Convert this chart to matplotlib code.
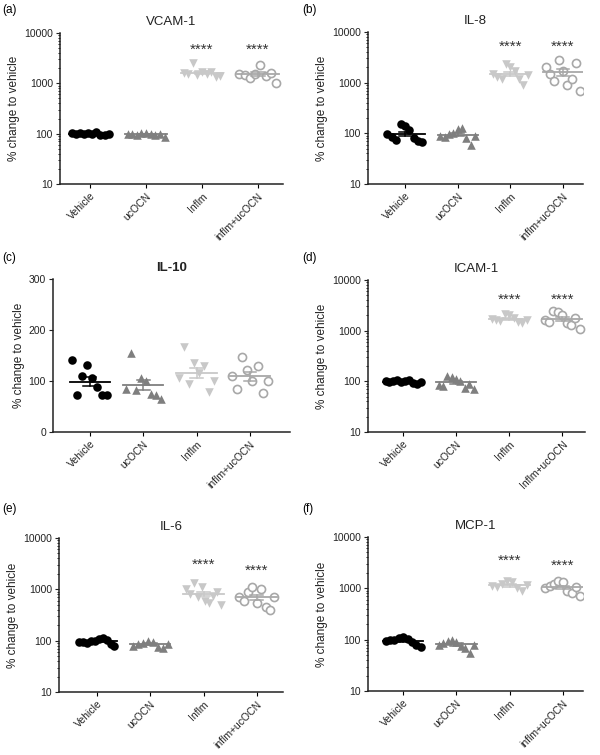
import numpy as np
import matplotlib
matplotlib.use("Agg")
import matplotlib.pyplot as plt

plt.rcParams['font.family'] = ['Liberation Sans', 'DejaVu Sans']

# groups on the x axis
groups = ["Vehicle", "ucOCN", "Inflm", "inflm+ucOCN"]
groups_d = ["Vehicle", "ucOCN", "Inflm", "Inflm+ucOCN"]

# per-panel values (% change to vehicle), one list per group
vcam1 = [
    [105, 100, 102, 98, 103, 100, 108, 95, 92, 99],
    [98, 100, 95, 103, 105, 100, 92, 97, 85],
    [1600, 1550, 2500, 1450, 1700, 1500, 1650, 1350, 1400],
    [1500, 1450, 1300, 1550, 2300, 1400, 1600, 1000],
]
il8 = [
    [95, 85, 75, 150, 140, 115, 80, 70, 68],
    [90, 85, 95, 100, 120, 125, 80, 58, 90],
    [1500, 1300, 1200, 2300, 2000, 1700, 1200, 900, 1400],
    [2000, 1500, 1100, 2800, 1700, 900, 1200, 2400, 700],
]
il10 = [
    [142, 72, 110, 131, 105, 88, 72, 72],
    [85, 155, 82, 105, 100, 75, 72, 65],
    [105, 167, 95, 135, 115, 130, 78, 100],
    [110, 85, 148, 122, 100, 130, 77, 100],
]
icam1 = [
    [100, 98, 102, 105, 95, 100, 108, 92, 88, 97],
    [85, 80, 130, 120, 110, 100, 75, 90, 72],
    [1700, 1600, 1550, 2100, 2000, 1800, 1500, 1400, 1650],
    [1600, 1500, 2500, 2300, 2000, 1400, 1300, 1750, 1100],
]
il6 = [
    [95, 95, 92, 98, 100, 110, 115, 105, 85, 78],
    [80, 85, 90, 100, 95, 75, 72, 85],
    [1000, 800, 1300, 700, 1100, 600, 550, 750, 900, 500],
    [700, 600, 900, 1100, 550, 1000, 450, 400, 700],
]
mcp1 = [
    [95, 98, 100, 110, 115, 105, 90, 80, 72],
    [80, 85, 95, 100, 90, 75, 70, 55, 80],
    [1100, 1050, 1200, 1400, 1300, 1000, 900, 1150],
    [1000, 1100, 1200, 1400, 1300, 900, 800, 1050, 700],
]

panels = [
    ("(a)", "VCAM-1", vcam1, groups, [4700, 4700]),
    ("(b)", "IL-8", il8, groups, [5000, 5000]),
    ("(c)", "IL-10", il10, groups, None),
    ("(d)", "ICAM-1", icam1, groups_d, [4000, 4000]),
    ("(e)", "IL-6", il6, groups, [3000, 2250]),
    ("(f)", "MCP-1", mcp1, groups, [3400, 2800]),
]

# axes boxes in pixels: left, right, top, bottom ; x limits ; tag position
boxes = [
    (60, 283, 33, 184, (-0.54, 3.45), (2, 10)),
    (368, 583, 32, 184, (-0.70, 3.38), (302, 10)),
    (53, 290, 279, 432, (-0.69, 3.75), (2, 258)),
    (368, 585, 280, 432, (-0.66, 3.43), (302, 258)),
    (59, 283, 538, 692, (-0.71, 3.49), (2, 509)),
    (368, 583, 537, 691, (-0.66, 3.38), (302, 509)),
]

colors = ["black", "#7f7f7f", "#c8c8c8", "#a8a8a8"]
markers = ["o", "^", "v", "o"]

W, H = 600, 755
fig = plt.figure(figsize=(6, 7.55), dpi=100)

for (tag, title, data, labels, stars), (l, r, t, b, xl, tp) in zip(panels, boxes):
    ax = fig.add_axes([l / W, 1 - b / H, (r - l) / W, (b - t) / H])
    log = stars is not None
    for i, vals in enumerate(data):
        vals = np.array(vals, dtype=float)
        n = len(vals)
        xs = i + np.linspace(-0.33, 0.33, n)
        c = colors[i]
        if i == 3:
            ax.scatter(xs, vals, s=34, marker=markers[i], facecolors="white",
                       edgecolors=c, linewidths=1.2, zorder=3)
        else:
            ax.scatter(xs, vals, s=38, marker=markers[i], color=c,
                       linewidths=0, zorder=3)
        m = vals.mean()
        sem = vals.std(ddof=1) / np.sqrt(n)
        ax.plot([i - 0.38, i + 0.38], [m, m], color=c, lw=1.3, zorder=4)
        ax.plot([i, i], [m - sem, m + sem], color=c, lw=1.1, zorder=4)
        for v in (m - sem, m + sem):
            ax.plot([i - 0.12, i + 0.12], [v, v], color=c, lw=1.1, zorder=4)
    if log:
        ax.set_yscale("log")
        ax.set_ylim(10, 10000)
        ax.set_yticks([10, 100, 1000, 10000])
        ax.set_yticklabels(["10", "100", "1000", "10000"])
        ax.tick_params(axis="y", which="minor", length=1.5, width=0.6)
        for k, sy in enumerate(stars):
            ax.text(2 + k, sy, "****", ha="center", va="center",
                    fontsize=11, color="#333333")
    else:
        ax.set_ylim(0, 300)
        ax.set_yticks([0, 100, 200, 300])
    ax.set_xlim(*xl)
    ax.set_xticks(range(4))
    ax.set_xticklabels(labels, rotation=45, ha="right",
                       rotation_mode="anchor", fontsize=7.5, color="#222222")
    ax.tick_params(axis="y", which="major", labelsize=7.5, length=3,
                   width=0.8, colors="#222222", pad=2)
    ax.tick_params(axis="x", length=3, width=0.8, pad=2)
    for s in ("top", "right"):
        ax.spines[s].set_visible(False)
    for s in ("left", "bottom"):
        ax.spines[s].set_linewidth(1.1)
        ax.spines[s].set_color("#222222")
    ax.set_ylabel("% change to vehicle", fontsize=8.5, color="#222222",
                  labelpad=3)
    ax.set_title(title, fontsize=9.5, color="#222222", pad=6,
                 fontweight="bold" if title == "IL-10" else "normal")
    fig.text(tp[0] / W, 1 - tp[1] / H, tag, fontsize=8.5, va="center",
             ha="left")

fig.savefig("out.png", dpi=100)
